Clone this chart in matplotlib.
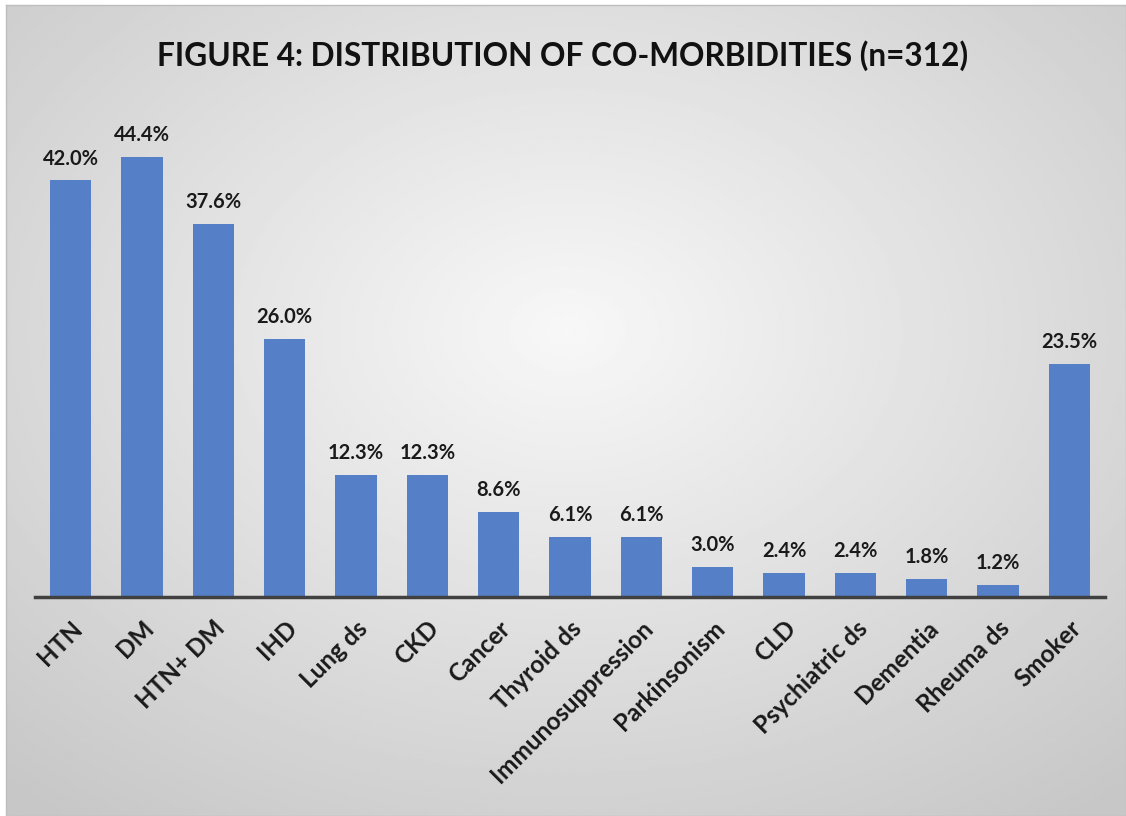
import numpy as np
import matplotlib.pyplot as plt

categories = ['HTN', 'DM', 'HTN+ DM', 'IHD', 'Lung ds', 'CKD', 'Cancer', 'Thyroid ds',
              'Immunosuppression', 'Parkinsonism', 'CLD', 'Psychiatric ds', 'Dementia',
              'Rheuma ds', 'Smoker']
percent = [42.0, 44.4, 37.6, 26.0, 12.3, 12.3, 8.6, 6.1, 6.1, 3.0, 2.4, 2.4, 1.8, 1.2, 23.5]

W, H = 1126, 816
fig = plt.figure(figsize=(W / 100, H / 100), dpi=100)
fig.patch.set_facecolor('white')

# radial grey gradient background (excel style)
bg = fig.add_axes([6 / W, 0, 1 - 6 / W, 1 - 5 / H], zorder=0)
yy, xx = np.mgrid[0:300, 0:400]
cx, cy = 200, 120
r = np.sqrt(((xx - cx) / 400) ** 2 + ((yy - cy) / 300) ** 2)
r = np.clip(r / 0.75, 0, 1)
grey = 0.97 - 0.19 * r
bg.imshow(grey, cmap='gray', vmin=0, vmax=1, aspect='auto', extent=[0, 1, 0, 1])
bg.set_xticks([])
bg.set_yticks([])
for s in bg.spines.values():
    s.set_color('#bdbdbd')
    s.set_linewidth(1)

ax = fig.add_axes([35 / W, 1 - 597 / H, 1070 / W, (597 - 120) / H], zorder=1)
ax.patch.set_alpha(0)
x = np.arange(len(categories))
ax.bar(x, percent, width=0.58, color='#5580C8')
ax.set_xlim(-0.5, len(categories) - 0.5)
ax.set_ylim(0, 48.1)

for xi, v in zip(x, percent):
    ax.text(xi, v + 1.2, f'{v:.1f}%', ha='center', va='bottom', fontsize=14.5,
            fontweight='bold', family='Lato', color='#1a1a1a')

ax.set_xticks(x)
ax.set_xticklabels(categories, rotation=45, ha='right', rotation_mode='anchor',
                   fontsize=17.5, fontweight='bold', family='Lato', color='#1a1a1a')
ax.tick_params(axis='x', length=0, pad=14)
ax.set_yticks([])
for side in ['top', 'right', 'left']:
    ax.spines[side].set_visible(False)
ax.spines['bottom'].set_color('#404040')
ax.spines['bottom'].set_linewidth(2.5)

fig.text(0.5, 1 - 56 / H, 'FIGURE 4: DISTRIBUTION OF CO-MORBIDITIES (n=312)', ha='center',
         va='center', fontsize=22.8, fontweight='bold', family='Lato', color='#111111')

fig.savefig('out.png', dpi=100)
